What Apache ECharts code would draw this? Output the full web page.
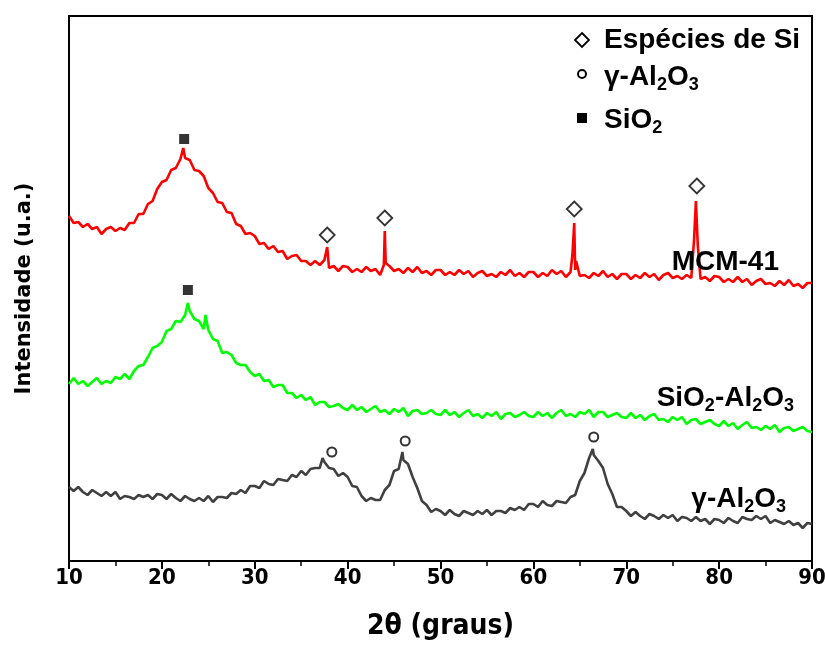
<!DOCTYPE html>
<html><head><meta charset="utf-8">
<script src="https://cdn.jsdelivr.net/npm/echarts@6/dist/echarts.min.js"></script>
<style>html,body{margin:0;padding:0;background:#fff;overflow:hidden;}#c{width:825px;height:646px;}</style>
</head><body><div id="c"></div>
<script>
// 2θ grid (graus)
const twoTheta = [
10,10.5,11,11.5,12,12.5,13,13.5,14,14.5,15,15.5,16,16.5,17,17.5,18,18.5,19,19.5,
20,20.5,21,21.5,22,22.5,23,23.5,24,24.5,25,25.5,26,26.5,27,27.5,28,28.5,29,29.5,
30,30.5,31,31.5,32,32.5,33,33.5,34,34.5,35,35.5,36,36.5,37,37.5,38,38.5,39,39.5,
40,40.5,41,41.5,42,42.5,43,43.5,44,44.5,45,45.5,46,46.5,47,47.5,48,48.5,49,49.5,
50,50.5,51,51.5,52,52.5,53,53.5,54,54.5,55,55.5,56,56.5,57,57.5,58,58.5,59,59.5,
60,60.5,61,61.5,62,62.5,63,63.5,64,64.5,65,65.5,66,66.5,67,67.5,68,68.5,69,69.5,
70,70.5,71,71.5,72,72.5,73,73.5,74,74.5,75,75.5,76,76.5,77,77.5,78,78.5,79,79.5,
80,80.5,81,81.5,82,82.5,83,83.5,84,84.5,85,85.5,86,86.5,87,87.5,88,88.5,89,89.5,
90];

// MCM-41 (red), intensity in arbitrary units
const mcm41 = [
345,338,339,334,337,332,334,327,332,334,
330,333,331,338,338,347,347,357,360,372,
379,381,391,393,402,403,401,391,390,385,
373,368,359,358,349,348,337,335,327,328,
325,317,318,312,315,309,310,302,305,306,
300,300,296,300,296,301,293,295,290,295,
294,289,292,289,294,290,292,286,330,295,
290,292,288,293,289,294,288,290,286,291,
291,286,289,286,291,287,290,284,288,290,
285,287,284,289,286,291,285,288,284,289,
289,284,288,285,291,287,290,284,289,291,
285,286,283,288,285,290,284,287,282,287,
287,282,286,283,288,284,287,281,286,288,
283,285,282,286,283,360,282,284,280,285,
284,279,282,279,284,279,282,276,280,282,
277,278,275,280,276,281,275,277,273,278,
278];
const mcm41ExtraX = [22.3, 37.8, 43.9, 44.1, 64.2, 64.4, 64.6, 77.3, 77.7];
const mcm41ExtraY = [413, 314, 296, 298, 306, 338, 300, 321, 316];

// SiO2-Al2O3 (green)
const silicaAlumina = [
177,183,177,180,175,179,183,177,180,178,
184,182,187,182,190,195,196,204,213,215,
219,230,232,240,239,246,250,242,240,232,
231,222,220,208,209,206,198,196,196,189,
185,187,180,181,174,176,176,168,168,163,
166,161,164,156,159,159,154,155,157,153,
151,156,151,154,149,152,155,149,151,147,
152,149,153,145,150,151,147,148,151,147,
146,151,146,149,144,148,151,145,147,143,
148,145,149,142,147,148,144,146,149,145,
144,149,145,148,143,148,151,145,147,144,
149,147,151,144,149,149,144,146,148,144,
143,148,143,146,141,145,147,141,142,139,
144,141,144,137,141,142,137,139,141,137,
135,140,135,138,132,136,139,133,134,131,
135,132,136,129,133,134,130,132,134,130,
129];
const silicaAluminaExtraX = [22.8, 24.7];
const silicaAluminaExtraY = [258, 246];

// γ-Al2O3 (grey)
const gammaAlumina = [
74,70,74,69,66,71,68,65,69,65,
69,62,65,64,62,66,64,66,62,67,
66,62,67,63,60,65,62,60,63,60,
65,59,64,64,63,68,67,71,68,75,
75,73,80,77,76,82,81,80,86,84,
90,86,92,93,93,99,93,92,85,88,
84,75,74,65,60,63,61,61,71,76,
90,92,101,97,84,73,60,56,49,52,
50,46,51,47,45,50,48,46,50,47,
51,46,50,50,48,53,51,54,51,57,
57,54,60,56,55,60,59,58,64,66,
80,88,103,106,100,93,77,67,54,54,
50,45,49,45,42,47,45,42,46,43,
46,40,44,43,40,44,40,42,37,42,
41,38,43,40,38,44,42,41,45,42,
45,38,41,39,37,40,36,38,33,38,
37];
const gammaAluminaExtraX = [37.3, 45.9, 66.4];
const gammaAluminaExtraY = [103, 109, 112];

// Peak markers
const siSpeciesX = [37.8, 44.0, 64.4, 77.6];
const siSpeciesY = [326, 343, 352, 375];
const aluminaMarkX = [38.3, 46.2, 66.5];
const aluminaMarkY = [109, 120, 124];
const silicaMarkX = [22.4, 22.8];
const silicaMarkY = [422, 271];

const xTicks = [10, 20, 30, 40, 50, 60, 70, 80, 90];

function merge(xs, ys, ex, ey) {
  const pts = xs.map((x, i) => [x, ys[i]]);
  ex.forEach((x, i) => pts.push([x, ey[i]]));
  pts.sort((a, b) => a[0] - b[0]);
  return pts;
}
function pairs(xs, ys) { return xs.map((x, i) => [x, ys[i]]); }

const narrow = "'Liberation Sans Narrow','DejaVu Sans Condensed','Liberation Sans',sans-serif";
const sans = "'Liberation Sans',Arial,sans-serif";
const richStyle = {
  m: { fontFamily: sans, fontWeight: 'bold', fontSize: 28, lineHeight: 32, color: '#000' },
  s: { fontFamily: sans, fontWeight: 'bold', fontSize: 18, lineHeight: 18, padding: [16, 0, 0, 0], color: '#000' }
};
function rtext(str, x, y, align) {
  return { type: 'text', x: x, y: y, z: 100,
    style: { text: str, rich: richStyle, align: align, textAlign: align,
             verticalAlign: 'middle', textVerticalAlign: 'middle', fill: '#000' } };
}

const chart = echarts.init(document.getElementById('c'), null, { renderer: 'canvas' });
chart.setOption({
  animation: false,
  backgroundColor: '#fff',
  grid: { left: 69, right: 13, top: 16, bottom: 85, show: true, borderColor: '#000', borderWidth: 2,
          backgroundColor: 'transparent', containLabel: false, outerBoundsMode: 'none' },
  xAxis: {
    type: 'value', min: 10, max: 90, interval: 10,
    axisLine: { show: true, lineStyle: { color: '#000', width: 2 } },
    axisTick: { show: true, inside: false, length: 8, lineStyle: { color: '#000', width: 2 } },
    minorTick: { show: true, splitNumber: 2, length: 5, lineStyle: { color: '#000', width: 1.5 } },
    splitLine: { show: false },
    axisLabel: { color: '#000', fontFamily: narrow, fontWeight: 'bold', fontSize: 22, margin: 6,
      formatter: v => (xTicks.indexOf(v) >= 0 ? String(v) : '') },
    name: '2θ (graus)', nameLocation: 'middle', nameGap: 52,
    nameTextStyle: { color: '#000', fontFamily: narrow, fontWeight: 'bold', fontSize: 28 }
  },
  yAxis: {
    type: 'value', min: 0, max: 545,
    axisLine: { show: true, lineStyle: { color: '#000', width: 2 } },
    axisTick: { show: false }, axisLabel: { show: false }, splitLine: { show: false },
    name: 'Intensidade (u.a.)', nameLocation: 'middle', nameGap: 34,
    nameTextStyle: { color: '#000', fontFamily: "'DejaVu Sans',sans-serif", fontWeight: 'bold', fontSize: 21 }
  },
  series: [
    { name: 'MCM-41', type: 'line', data: merge(twoTheta, mcm41, mcm41ExtraX, mcm41ExtraY),
      showSymbol: false, lineStyle: { color: '#ff0000', width: 2.6 }, z: 3 },
    { name: 'SiO2-Al2O3', type: 'line', data: merge(twoTheta, silicaAlumina, silicaAluminaExtraX, silicaAluminaExtraY),
      showSymbol: false, lineStyle: { color: '#00ff00', width: 2.6 }, z: 3 },
    { name: 'γ-Al2O3', type: 'line', data: merge(twoTheta, gammaAlumina, gammaAluminaExtraX, gammaAluminaExtraY),
      showSymbol: false, lineStyle: { color: '#404040', width: 2.6 }, z: 3 },
    { name: 'Espécies de Si', type: 'scatter', data: pairs(siSpeciesX, siSpeciesY), symbol: 'diamond', symbolSize: [15, 15],
      itemStyle: { color: '#fff', borderColor: '#000', borderWidth: 1.8 }, z: 5 },
    { name: 'γ-Al2O3 pico', type: 'scatter', data: pairs(aluminaMarkX, aluminaMarkY), symbol: 'circle', symbolSize: 9,
      itemStyle: { color: '#fff', borderColor: '#000', borderWidth: 2 }, z: 5 },
    { name: 'SiO2', type: 'scatter', data: pairs(silicaMarkX, silicaMarkY), symbol: 'rect', symbolSize: 10,
      itemStyle: { color: '#000' }, z: 5 }
  ],
  graphic: [
    { type: 'polygon', z: 100, shape: { points: [[582, 33], [589, 40], [582, 47], [575, 40]] },
      style: { fill: '#fff', stroke: '#000', lineWidth: 1.8 } },
    rtext('{m|Espécies de Si}', 604, 40, 'left'),
    { type: 'circle', z: 100, shape: { cx: 582, cy: 74, r: 4 }, style: { fill: '#fff', stroke: '#000', lineWidth: 2 } },
    rtext('{m|γ-Al}{s|2}{m|O}{s|3}', 604, 77, 'left'),
    { type: 'rect', z: 100, shape: { x: 577, y: 113, width: 10, height: 10 }, style: { fill: '#000' } },
    rtext('{m|SiO}{s|2}', 604, 120, 'left'),
    rtext('{m|MCM-41}', 779, 262, 'right'),
    rtext('{m|SiO}{s|2}{m|-Al}{s|2}{m|O}{s|3}', 794, 398, 'right'),
    rtext('{m|γ-Al}{s|2}{m|O}{s|3}', 786, 499, 'right')
  ]
});
</script>
</body></html>
